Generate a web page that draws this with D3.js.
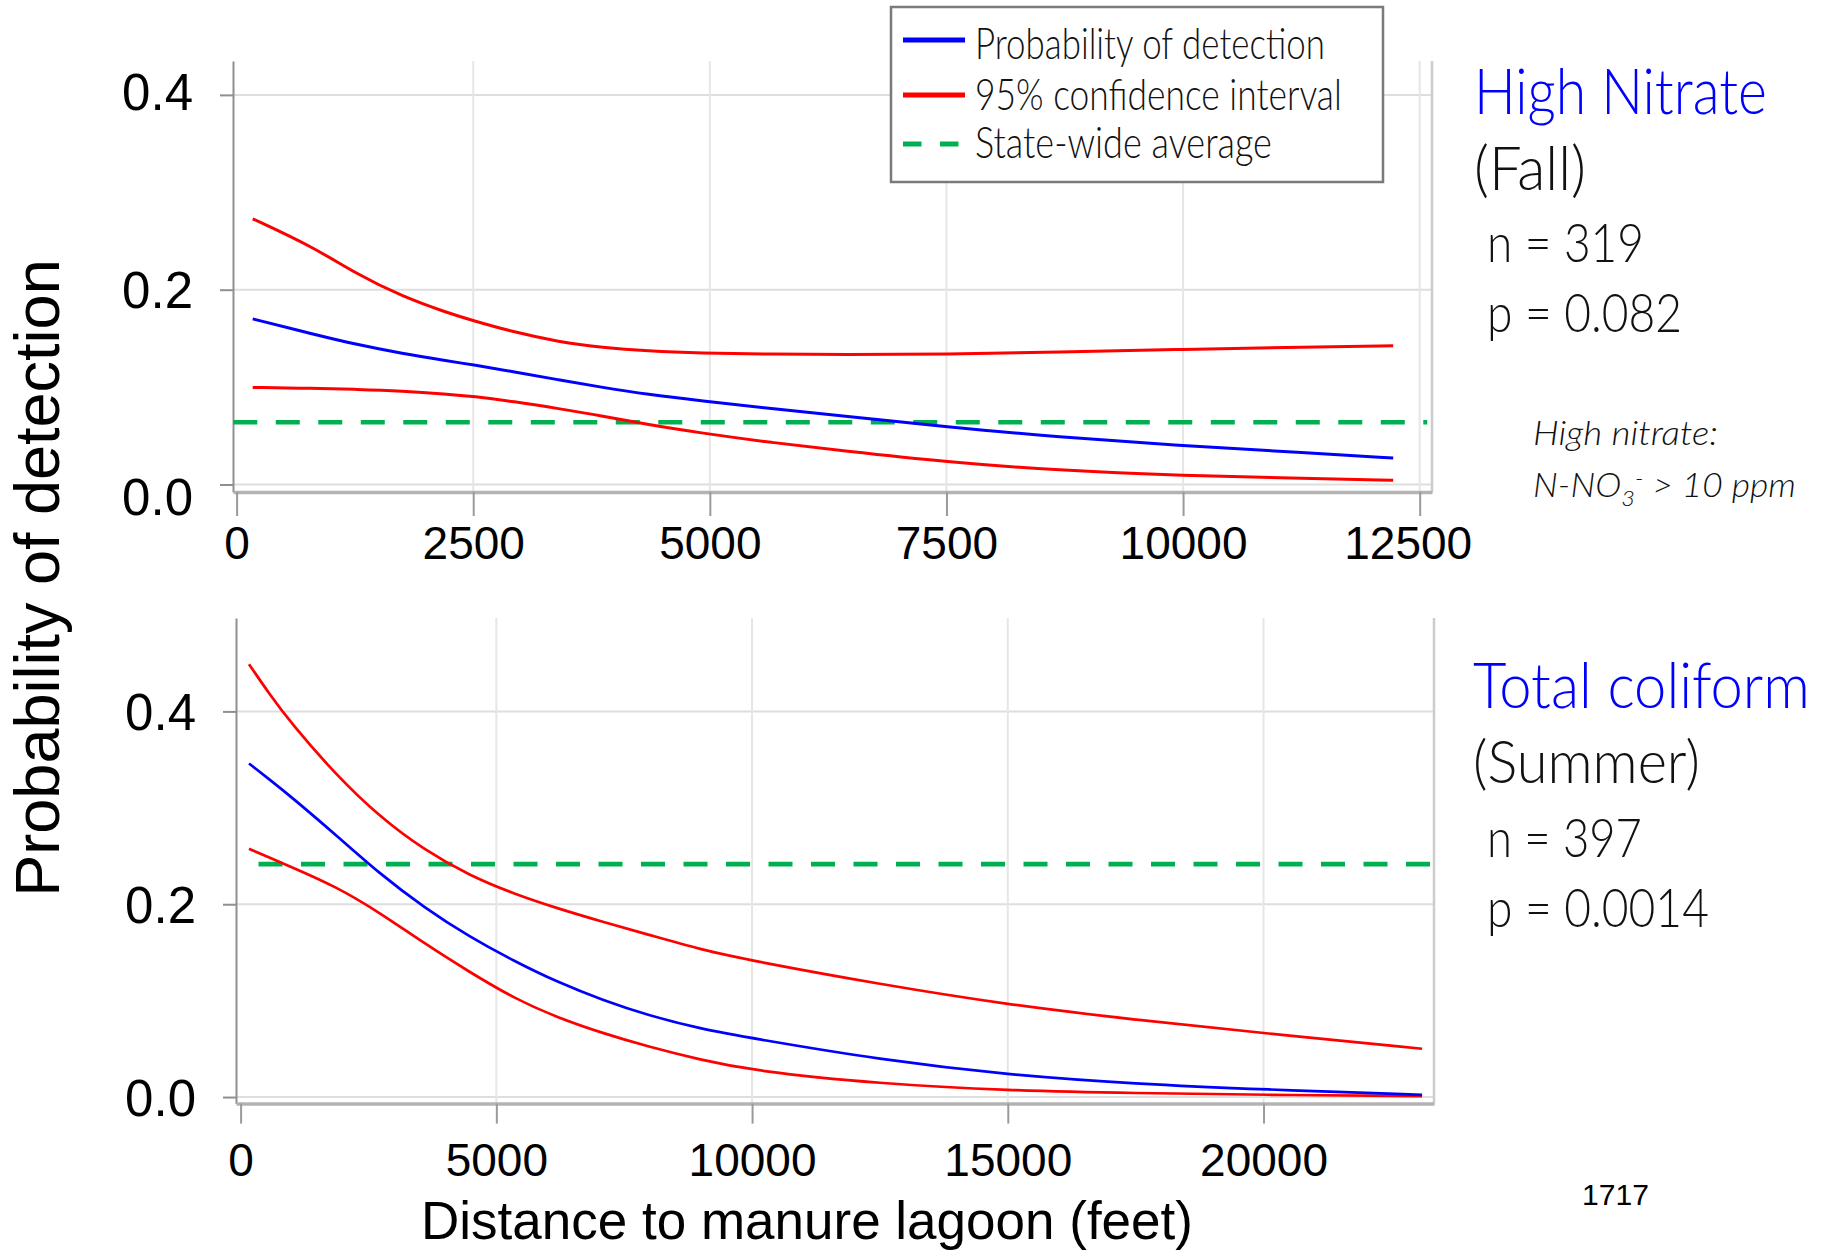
<!DOCTYPE html>
<html>
<head>
<meta charset="utf-8">
<script src="https://cdn.jsdelivr.net/npm/d3@7"></script>
<style>
  html, body { margin: 0; padding: 0; background: #fff; }
  svg { display: block; }
</style>
</head>
<body>
<svg id="chart" width="1821" height="1250"></svg>
<script>
// ---------- data ----------
// High nitrate (fall): distance to lagoon (ft) and fitted probability with 95% CI
const nitrateFt    = [170, 800, 1270, 1750, 2220, 2500, 2930, 3400, 3870, 4340, 4900, 5650, 6400, 7500, 8670, 10000, 11320, 12220];
const nitrateProb  = [0.170, 0.1546, 0.1436, 0.1344, 0.1270, 0.1228, 0.1158, 0.1075, 0.0996, 0.0925, 0.0860, 0.0780, 0.0704, 0.0593, 0.0488, 0.0399, 0.0325, 0.0271];
const nitrateUpper = [0.2728, 0.2443, 0.2160, 0.1930, 0.1765, 0.1682, 0.1565, 0.1465, 0.1405, 0.1370, 0.1348, 0.1338, 0.1333, 0.1336, 0.1360, 0.1388, 0.1410, 0.1425];
const nitrateLower = [0.0996, 0.0988, 0.0977, 0.0960, 0.0929, 0.0905, 0.0852, 0.0780, 0.0703, 0.0615, 0.0530, 0.0430, 0.0348, 0.0232, 0.0145, 0.0091, 0.0062, 0.0043];
const nitrateStateAvg = 0.064;
const nitrateAvgSpan  = [-35, 12580];

// Total coliform (summer)
const coliformFt    = [164, 550, 1000, 1850, 2720, 3590, 4470, 5340, 6210, 7080, 7960, 8990, 10000, 12500, 15000, 17500, 20000, 23100];
const coliformProb  = [0.346, 0.330, 0.311, 0.2725, 0.2315, 0.1965, 0.1663, 0.1412, 0.1188, 0.1005, 0.0848, 0.0707, 0.0610, 0.0387, 0.0230, 0.0137, 0.0078, 0.0023];
const coliformUpper = [0.449, 0.419, 0.387, 0.335, 0.2905, 0.2563, 0.2299, 0.2108, 0.1954, 0.1817, 0.1687, 0.1530, 0.1413, 0.1170, 0.0958, 0.0800, 0.0663, 0.0501];
const coliformLower = [0.2575, 0.2487, 0.2385, 0.2187, 0.1914, 0.1594, 0.1299, 0.1025, 0.0821, 0.0662, 0.0524, 0.0387, 0.0273, 0.0137, 0.0068, 0.0040, 0.0023, 0.0010];
const coliformStateAvg = 0.2415;
const coliformAvgSpan  = [350, 23300];

// axis ticks and labels
const yTicks          = [0, 0.2, 0.4];
const nitrateXTicks   = [0, 2500, 5000, 7500, 10000, 12500];
const coliformXTicks  = [0, 5000, 10000, 15000, 20000];
const legendLabels    = ["Probability of detection", "95% confidence interval", "State-wide average"];
const yTitle = "Probability of detection";
const xTitle = "Distance to manure lagoon (feet)";

// ---------- styles ----------
const BLUE = "#0000ff", RED = "#ff0000", GREEN = "#00b050";
const TICK_FONT = "'Liberation Sans', Arial, sans-serif";
const THIN_FONT = "Lato, 'Open Sans', sans-serif";

const svg = d3.select("#chart");

// ---------- panel drawing ----------
function drawPanel(cfg) {
  const x = d3.scaleLinear().domain(cfg.xDomain).range([cfg.left, cfg.right]);
  const y = d3.scaleLinear().domain(cfg.yDomain).range([cfg.bottom, cfg.top]);
  const g = svg.append("g");

  // horizontal gridlines
  g.append("g").selectAll("line").data(yTicks).join("line")
    .attr("x1", cfg.left).attr("x2", cfg.right)
    .attr("y1", d => y(d)).attr("y2", d => y(d))
    .attr("stroke", "#dedede").attr("stroke-width", 2);

  // vertical gridlines
  g.append("g").selectAll("line").data(cfg.xTicks.filter(d => d > 0)).join("line")
    .attr("x1", d => x(d)).attr("x2", d => x(d))
    .attr("y1", cfg.top).attr("y2", cfg.bottom)
    .attr("stroke", "#e6e6e6").attr("stroke-width", 2);

  // right border of plot region
  g.append("line")
    .attr("x1", cfg.right).attr("x2", cfg.right)
    .attr("y1", cfg.top).attr("y2", cfg.bottom)
    .attr("stroke", "#cccccc").attr("stroke-width", 2.5);

  // y axis
  const yAxis = g.append("g")
    .attr("transform", `translate(${cfg.left},0)`)
    .call(d3.axisLeft(y).tickValues(yTicks).tickFormat(d3.format(".1f"))
      .tickSize(13).tickSizeOuter(0).tickPadding(27));
  yAxis.select(".domain").attr("stroke", "#8f8f8f").attr("stroke-width", 2);
  yAxis.selectAll(".tick line").attr("stroke", "#8f8f8f").attr("stroke-width", 2);
  yAxis.selectAll(".tick text")
    .attr("font-family", TICK_FONT).attr("font-size", 51).attr("fill", "#000")
    .attr("dy", d => (cfg.yLabelShift[d] || 0) + 18);

  // x axis
  const xAxis = g.append("g")
    .attr("transform", `translate(0,${cfg.bottom})`)
    .call(d3.axisBottom(x).tickValues(cfg.xTicks).tickFormat(d3.format("d"))
      .tickSize(cfg.xTickSize).tickSizeOuter(0).tickPadding(cfg.xTickPad));
  xAxis.select(".domain").attr("stroke", "#b3b3b3").attr("stroke-width", 3.5);
  xAxis.selectAll(".tick line").attr("stroke", "#9a9a9a").attr("stroke-width", 2);
  xAxis.selectAll(".tick text")
    .attr("font-family", TICK_FONT).attr("font-size", 46).attr("fill", "#000")
    .attr("dx", d => cfg.xLabelShift[d] || 0);

  // state-wide average
  g.append("line")
    .attr("x1", x(cfg.avgSpan[0])).attr("x2", x(cfg.avgSpan[1]))
    .attr("y1", y(cfg.avg)).attr("y2", y(cfg.avg))
    .attr("stroke", GREEN).attr("stroke-width", cfg.dashWidth)
    .attr("stroke-dasharray", "24,18.5");

  // fitted curves (smoothed through the sampled points)
  const line = vals => d3.line()
    .x((d, i) => x(cfg.ft[i]))
    .y(d => y(d))
    .curve(d3.curveBasis)(vals);
  [[cfg.upper, RED], [cfg.lower, RED], [cfg.prob, BLUE]].forEach(([vals, col]) => {
    g.append("path").attr("d", line(vals))
      .attr("fill", "none").attr("stroke", col)
      .attr("stroke-width", cfg.lineWidth).attr("stroke-linecap", "butt");
  });
}

drawPanel({
  left: 233, right: 1432, top: 61, bottom: 492,
  xDomain: [-38, 12630], yDomain: [-0.0077, 0.4348],
  xTicks: nitrateXTicks, xTickSize: 24, xTickPad: 10,
  yLabelShift: { 0: 12, 0.4: -3 },
  xLabelShift: { 12500: -12 },
  ft: nitrateFt, prob: nitrateProb, upper: nitrateUpper, lower: nitrateLower,
  avg: nitrateStateAvg, avgSpan: nitrateAvgSpan,
  lineWidth: 3, dashWidth: 4.5
});

drawPanel({
  left: 236, right: 1434, top: 618, bottom: 1103.6,
  xDomain: [-90, 23333], yDomain: [-0.0068, 0.4969],
  xTicks: coliformXTicks, xTickSize: 20, xTickPad: 20,
  yLabelShift: {},
  xLabelShift: {},
  ft: coliformFt, prob: coliformProb, upper: coliformUpper, lower: coliformLower,
  avg: coliformStateAvg, avgSpan: coliformAvgSpan,
  lineWidth: 2.7, dashWidth: 4.8
});

// ---------- axis titles ----------
svg.append("text")
  .attr("transform", "translate(59,578) rotate(-90)")
  .attr("text-anchor", "middle")
  .attr("font-family", TICK_FONT).attr("font-size", 63).attr("fill", "#000")
  .text(yTitle);

svg.append("text")
  .attr("x", 807).attr("y", 1239)
  .attr("text-anchor", "middle")
  .attr("font-family", TICK_FONT).attr("font-size", 53).attr("fill", "#000")
  .text(xTitle);

// ---------- narrow light text, squeezed to a given width ----------
function fitText(x, y, width, size, opts, build) {
  const t = svg.append("text")
    .attr("x", 0).attr("y", 0)
    .attr("font-family", opts.family || THIN_FONT)
    .attr("font-weight", opts.weight || 300)
    .attr("font-style", opts.italic ? "italic" : "normal")
    .attr("font-size", size)
    .attr("fill", opts.fill || "#111");
  build(t);
  const w = t.node().getBBox().width;
  t.attr("transform", `translate(${x},${y}) scale(${width / w},1)`);
  return t;
}
const plain = s => t => t.text(s);

// legend
svg.append("rect")
  .attr("x", 891).attr("y", 7).attr("width", 492).attr("height", 175)
  .attr("fill", "#fff").attr("stroke", "#7a7a7a").attr("stroke-width", 2.5);
const legendY = [40, 95, 144];
const legendStyle = [
  { col: BLUE, dash: null },
  { col: RED, dash: null },
  { col: GREEN, dash: "18.5,18.5" }
];
legendLabels.forEach((lab, i) => {
  svg.append("line")
    .attr("x1", 903).attr("x2", 965)
    .attr("y1", legendY[i]).attr("y2", legendY[i])
    .attr("stroke", legendStyle[i].col).attr("stroke-width", 5)
    .attr("stroke-dasharray", legendStyle[i].dash);
});
fitText(975, 59, 350, 43, {}, plain(legendLabels[0]));
fitText(975, 110, 367, 43, {}, plain(legendLabels[1]));
fitText(975, 158, 297, 43, {}, plain(legendLabels[2]));

// panel annotations
fitText(1474, 114, 293, 63, { fill: BLUE }, plain("High Nitrate"));
fitText(1474, 190, 112, 61, {}, plain("(Fall)"));
fitText(1487, 262, 157, 54, {}, plain("n = 319"));
fitText(1487, 332, 195, 54, {}, plain("p = 0.082"));
fitText(1533, 445, 185, 33, { italic: true }, plain("High nitrate:"));
fitText(1533, 497, 263, 33, { italic: true }, t => {
  t.append("tspan").text("N-NO");
  t.append("tspan").attr("font-size", 22).attr("dy", 9).text("3");
  t.append("tspan").attr("font-size", 22).attr("dy", -20).text("-");
  t.append("tspan").attr("dy", 11).text(" > 10 ppm");
});

fitText(1473, 708, 337, 63, { fill: BLUE }, plain("Total coliform"));
fitText(1473, 783, 227, 60, {}, plain("(Summer)"));
fitText(1487, 857, 155, 54, {}, plain("n = 397"));
fitText(1487, 927, 222, 54, {}, plain("p = 0.0014"));

fitText(1582, 1205, 67, 29, { family: TICK_FONT, weight: 400, fill: "#000" }, plain("1717"));
</script>
</body>
</html>
